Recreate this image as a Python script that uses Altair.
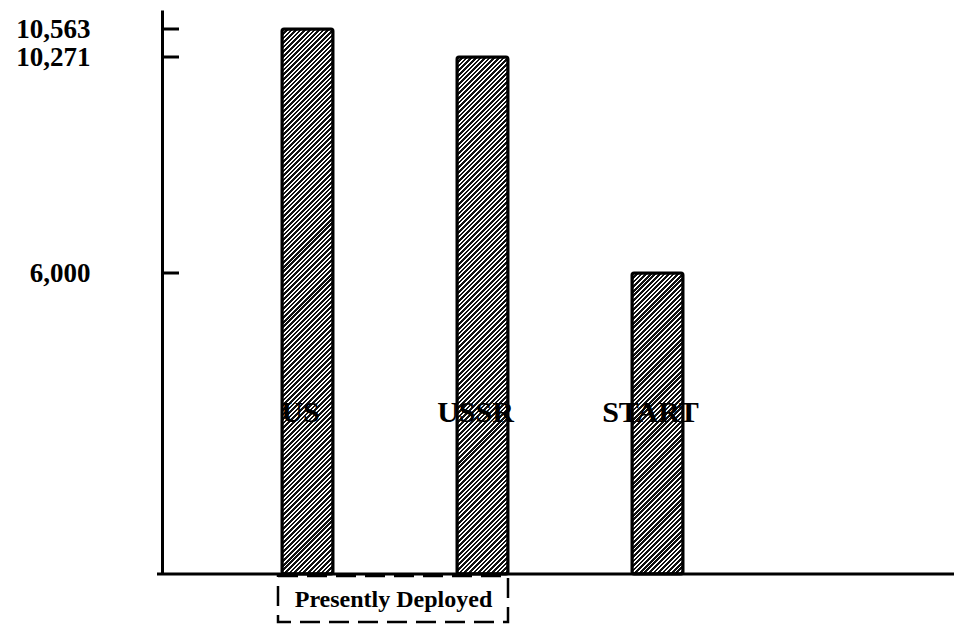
import altair as alt
import numpy as np
import pandas as pd

# ---- data ----
countries = ["US", "USSR", "START"]
warheads = [10563, 10271, 6000]
tick_values = [6000, 10271, 10563]
box_from = ["US"]
box_to = ["USSR"]
box_text = ["Presently Deployed"]

# the original axis is drawn not-to-scale: piecewise linear scale through its ticks
y_domain = [0, 6000, 10271, 10563, 10761]
W, H = 792, 564
y_range = [H, 263, 47, 19, 0]
x_range = [120, 521]
PAD_IN = 0.7086

bars_df = pd.DataFrame({"country": countries, "warheads": warheads})
ticks_df = pd.DataFrame({"v": tick_values})
box_df = pd.DataFrame({"from": box_from, "to": box_to, "label": box_text})

SERIF = "Liberation Serif"

xscale = alt.Scale(domain=countries, range=x_range, paddingInner=PAD_IN, paddingOuter=0)
yscale = alt.Scale(type="linear", domain=y_domain, range=y_range, nice=False, zero=False)

xaxis = alt.Axis(labels=False, ticks=False, title=None, grid=False, domain=False)
yaxis = alt.Axis(values=tick_values, format=",d", title=None, ticks=False, tickSize=0,
                 grid=False, labelFont=SERIF, labelFontWeight="bold", labelFontSize=27,
                 labelColor="black", labelPadding=72, labelOverlap=False,
                 domainColor="black", domainWidth=3, zindex=1)

bandwidth = (x_range[1] - x_range[0]) / (3 - PAD_IN) * (1 - PAD_IN)


def hatch(w, h, period=4.6, dark=0.55, c1="#111111", c2="#ffffff"):
    a = w / h
    s = (a + 1) / (a * a + 1)
    n = int(round((w + h) / period))
    stops = []
    for i in range(n):
        o0 = round(i / n, 5)
        o1 = round((i + dark) / n, 5)
        o2 = round((i + 1) / n, 5)
        stops += [{"offset": o0, "color": c1}, {"offset": o1, "color": c1},
                  {"offset": o1, "color": c2}, {"offset": o2, "color": c2}]
    return {"gradient": "linear", "x1": 0, "y1": 0, "x2": a * s, "y2": s, "stops": stops}


layers = []
for c, v in zip(countries, warheads):
    h = H - float(np.interp(v, y_domain, y_range))
    g = hatch(bandwidth, h, dark=0.62 if c == "START" else 0.57)
    layers.append(
        alt.Chart(bars_df).transform_filter(alt.datum.country == c)
        .mark_bar(fill=g, stroke="black", strokeWidth=3, cornerRadius=2)
        .encode(x=alt.X("country:N", scale=xscale, axis=xaxis),
                y=alt.Y("warheads:Q", scale=yscale, axis=yaxis))
    )

baseline = alt.Chart(ticks_df.head(1)).mark_rule(stroke="black", strokeWidth=3).encode(
    y=alt.datum(0, scale=yscale, axis=yaxis), x=alt.value(-5), x2=alt.value(W))

ticks = alt.Chart(ticks_df).mark_rule(stroke="black", strokeWidth=3).encode(
    y=alt.Y("v:Q", scale=yscale, axis=yaxis), x=alt.value(0), x2=alt.value(17))

labels = alt.Chart(bars_df).mark_text(
    font=SERIF, fontWeight="bold", fontSize=30, color="black", dx=-7, baseline="middle"
).encode(x=alt.X("country:N", scale=xscale, axis=xaxis), y=alt.value(403), text="country:N")

box = alt.Chart(box_df).mark_rect(
    fillOpacity=0, stroke="black", strokeWidth=2.5, strokeDash=[20, 9], xOffset=-4
).encode(x=alt.X("from:N", bandPosition=0, scale=xscale, axis=xaxis),
         x2=alt.X2("to", bandPosition=1),
         y=alt.value(566), y2=alt.value(612))

box_label = alt.Chart(box_df).mark_text(
    font=SERIF, fontWeight="bold", fontSize=24, color="black", dx=86, baseline="middle"
).encode(x=alt.X("from:N", scale=xscale, axis=xaxis), y=alt.value(590), text="label:N")

chart = alt.layer(*layers, ticks, labels, box, box_label, baseline).properties(
    width=W, height=H, background="white",
    padding={"left": 154, "top": 2, "right": 0, "bottom": 51},
    autosize=alt.AutoSizeParams(type="none"),
).configure_view(stroke=None)

chart.save("out.html", embed_options={"renderer": "svg", "actions": False})
